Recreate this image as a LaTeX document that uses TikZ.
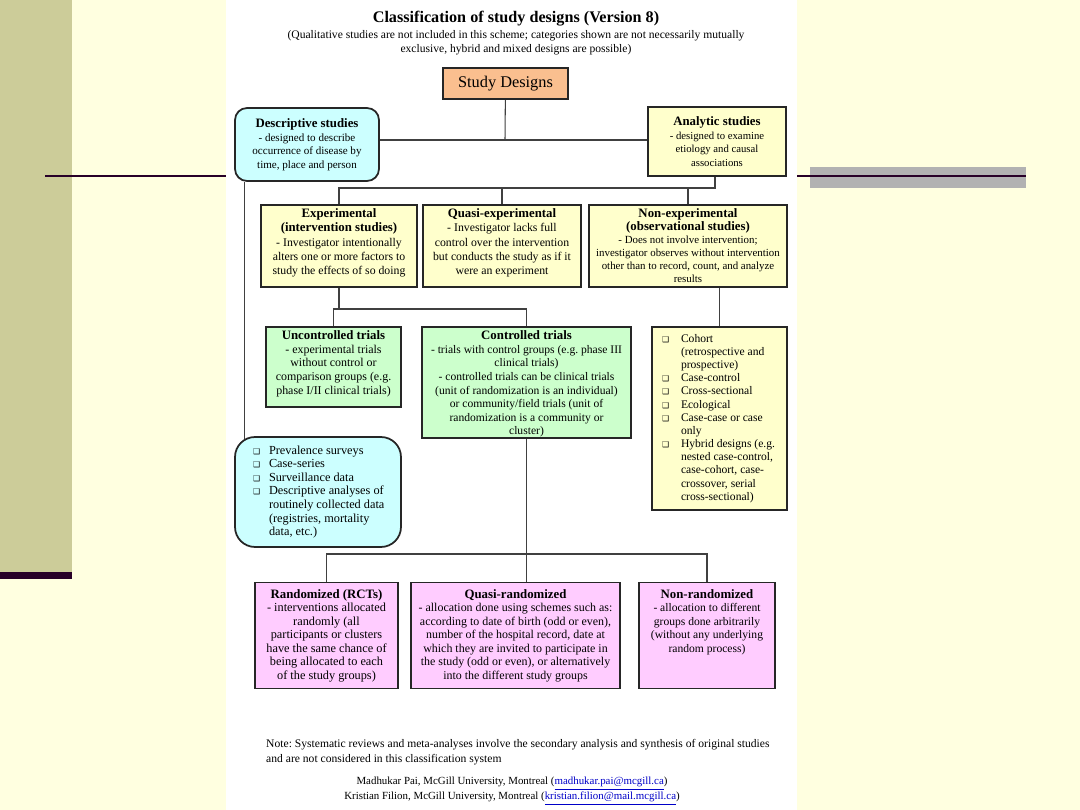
\documentclass[tikz,border=0pt]{standalone}
\usepackage{fontspec}
\setmainfont{Liberation Serif}
\newfontfamily\symfont{DejaVu Sans}
\usepackage{tikz}
\usetikzlibrary{positioning,calc,backgrounds}
\usepackage{xcolor}
\definecolor{pagebg}{RGB}{255,255,224}
\definecolor{stripbg}{RGB}{204,204,153}
\definecolor{darkbar}{RGB}{40,0,40}
\definecolor{grayband}{RGB}{178,178,178}
\definecolor{peach}{RGB}{250,191,143}
\definecolor{cfill}{RGB}{204,255,255}
\definecolor{yfill}{RGB}{255,255,204}
\definecolor{gfill}{RGB}{204,255,204}
\definecolor{pfill}{RGB}{255,204,255}
\definecolor{linkblue}{RGB}{0,0,200}
\frenchspacing
\newcommand{\hd}[1]{{\fontsize{7.3}{7.7}\selectfont\bfseries #1}}
\newcommand{\boxtext}[4][t]{\parbox[c][#3][#1]{#2}{\centering #4}}
\newcommand{\bul}{\makebox[0.5cm][l]{\hspace{0.12cm}{\symfont\fontsize{4.5}{5}\selectfont ❑}}}
\newcommand{\bulc}{\hspace*{0.5cm}}
\newcommand{\dul}{\makebox[0.6cm][l]{\hspace{0.28cm}{\symfont\fontsize{4.5}{5}\selectfont ❑}}}
\newcommand{\dulc}{\hspace*{0.6cm}}

\begin{document}
\begin{tikzpicture}[x=0.02cm,y=-0.02cm,
    every node/.style={font=\fontsize{6.8}{7.7}\selectfont},
    cell/.style={draw=black!85,line width=0.8pt,inner xsep=0.08cm,inner ysep=0.08cm},
    ybox/.style={cell,fill=yfill},
    gbox/.style={cell,fill=gfill},
    pbox/.style={cell,fill=pfill},
    cbox/.style={cell,fill=cfill,line width=1pt},
    conn/.style={draw=black!75,line width=0.6pt}]
  \useasboundingbox (0,0) rectangle (1080,810);

  % slide and page
  \begin{scope}[on background layer]
    \fill[pagebg] (0,0) rectangle (1080,810);
    \fill[stripbg] (0,0) rectangle (72,572);
    \fill[darkbar] (0,572) rectangle (72,579);
    \draw[darkbar,line width=1.7pt] (45,176) -- (226,176);
    \fill[grayband] (810,167) rectangle (1026,188);
    \draw[darkbar,line width=1.7pt] (797,176) -- (1026,176);
    \fill[white] (226,0) rectangle (797,810);
  \end{scope}

  % heading
  \node[font=\fontsize{9.2}{11}\selectfont\bfseries] (title) at (516,19) {Classification of study designs (Version 8)};
  \node[align=center,font=\fontsize{6.6}{7.9}\selectfont] (sub) at (516,43) {(Qualitative studies are not included in this scheme; categories shown are not necessarily mutually\\ exclusive, hybrid and mixed designs are possible)};

  % first levels
  \node[cell,fill=peach,minimum width=2.5cm,minimum height=0.62cm,font=\fontsize{9.3}{11}\selectfont] (sd) at (505.5,83.5) {Study Designs};
  \node[cbox,rounded corners=0.24cm,font=\fontsize{6.3}{7.7}\selectfont] (desc) at (307,144.5) {\boxtext[c]{2.72cm}{1.30cm}{\hd{Descriptive studies}\\ - designed to describe\\ occurrence of disease by\\ time, place and person}};
  \node[ybox,font=\fontsize{6.1}{7.7}\selectfont] (anal) at (717,141.5) {\boxtext[c]{2.60cm}{1.22cm}{\hd{Analytic studies}\\ - designed to examine\\ etiology and causal\\ associations}};

  \node[ybox,font=\fontsize{6.7}{8}\selectfont] (exper) at (339,246) {\boxtext{2.96cm}{1.48cm}{\hd{Experimental}\\ \hd{(intervention studies)}\\ - Investigator intentionally\\ alters one or more factors to\\ study the effects of so doing}};
  \node[ybox,font=\fontsize{6.7}{8}\selectfont] (quasi) at (502,246) {\boxtext{3.00cm}{1.48cm}{\hd{Quasi-experimental}\\ - Investigator lacks full\\ control over the intervention\\ but conducts the study as if it\\ were an experiment}};
  \node[ybox,font=\fontsize{6.2}{7.4}\selectfont] (nonexp) at (688,246) {\boxtext{3.80cm}{1.48cm}{\hd{Non-experimental}\\ \hd{(observational studies)}\\ - Does not involve intervention;\\ investigator observes without intervention\\ other than to record, count, and analyze\\ results}};

  % trials
  \node[gbox] (unc) at (333.5,367) {\boxtext{2.54cm}{1.44cm}{\hd{Uncontrolled trials}\\ - experimental trials\\ without control or\\ comparison groups (e.g.\\ phase I/II clinical trials)}};
  \node[gbox,font=\fontsize{6.6}{7.7}\selectfont] (ctrl) at (526.5,382.5) {\boxtext{4.02cm}{2.06cm}{\hd{Controlled trials}\\ - trials with control groups (e.g. phase III\\ clinical trials)\\ - controlled trials can be clinical trials\\ (unit of randomization is an individual)\\ or community/field trials (unit of\\ randomization is a community or\\ cluster)}};
  \node[ybox,font=\fontsize{6.6}{7.5}\selectfont] (obs) at (719.5,418.5) {\parbox[c][3.50cm][c]{2.54cm}{\raggedright
      \bul Cohort\\ \bulc(retrospective and\\ \bulc prospective)\\
      \bul Case-control\\ \bul Cross-sectional\\ \bul Ecological\\
      \bul Case-case or case\\ \bulc only\\
      \bul Hybrid designs (e.g.\\ \bulc nested case-control,\\ \bulc case-cohort, case-\\ \bulc crossover, serial\\ \bulc cross-sectional)}};
  \node[cbox,rounded corners=0.4cm,font=\fontsize{7}{7.7}\selectfont] (dlist) at (318,492) {\parbox[c][2.04cm][c]{3.16cm}{\raggedright
      \dul Prevalence surveys\\ \dul Case-series\\ \dul Surveillance data\\
      \dul Descriptive analyses of\\ \dulc routinely collected data\\ \dulc (registries, mortality\\ \dulc data, etc.)}};

  % allocation
  \node[pbox,font=\fontsize{7}{7.7}\selectfont] (rand) at (326.5,635.5) {\boxtext{2.70cm}{1.96cm}{\vspace*{1.5pt}\hd{Randomized (RCTs)}\\ - interventions allocated\\ randomly (all\\ participants or clusters\\ have the same chance of\\ being allocated to each\\ of the study groups)}};
  \node[pbox] (qrand) at (515.5,635.5) {\boxtext{4.02cm}{1.96cm}{\vspace*{1.5pt}\hd{Quasi-randomized}\\ - allocation done using schemes such as:\\ according to date of birth (odd or even),\\ number of the hospital record, date at\\ which they are invited to participate in\\ the study (odd or even), or alternatively\\ into the different study groups}};
  \node[pbox,font=\fontsize{6.6}{7.7}\selectfont] (nrand) at (707,635.5) {\boxtext{2.56cm}{1.96cm}{\vspace*{1.5pt}\hd{Non-randomized}\\ - allocation to different\\ groups done arbitrarily\\ (without any underlying\\ random process)}};

  % connectors
  \coordinate (j0) at (505,140);
  \coordinate (j1) at (715,188);
  \coordinate (j2) at (334,309);
  \coordinate (j3) at (526,554);
  \begin{scope}[on background layer]
    \draw[conn] (sd) -- (j0);
    \draw[conn] (desc.east|-j0) -- (anal.west|-j0);
    \draw[conn] (anal.south-|j1) -- (j1) -| (exper.north);
    \draw[conn] (quasi.north) -- (quasi.north|-j1);
    \draw[conn] (nonexp.north) -- (nonexp.north|-j1);
    \draw[conn] ([xshift=0.2cm]desc.south west) -- ([xshift=0.2cm,yshift=-0.1cm]desc.south west|-dlist.north);
    \draw[conn] (exper.south) -- (exper.south|-j2);
    \draw[conn] (unc.north) |- (j2) -| (ctrl.north);
    \draw[conn] (nonexp.south-|obs.north) -- (obs.north);
    \draw[conn] (ctrl.south) -- (ctrl.south|-qrand.north);
    \draw[conn] (rand.north) |- (j3) -| (nrand.north);
  \end{scope}

  % notes
  \node[anchor=west,align=left,font=\fontsize{6.6}{8.5}\selectfont] (note) at (260,752) {Note: Systematic reviews and meta-analyses involve the secondary analysis and synthesis of original studies\\ and are not considered in this classification system};
  \node[align=center,font=\fontsize{6.2}{7.4}\selectfont] (cred) at (512,791) {Madhukar Pai, McGill University, Montreal (\textcolor{linkblue}{\underline{madhukar.pai@mcgill.ca}})\\ Kristian Filion, McGill University, Montreal (\textcolor{linkblue}{\underline{kristian.filion@mail.mcgill.ca}})};
\end{tikzpicture}
\end{document}
